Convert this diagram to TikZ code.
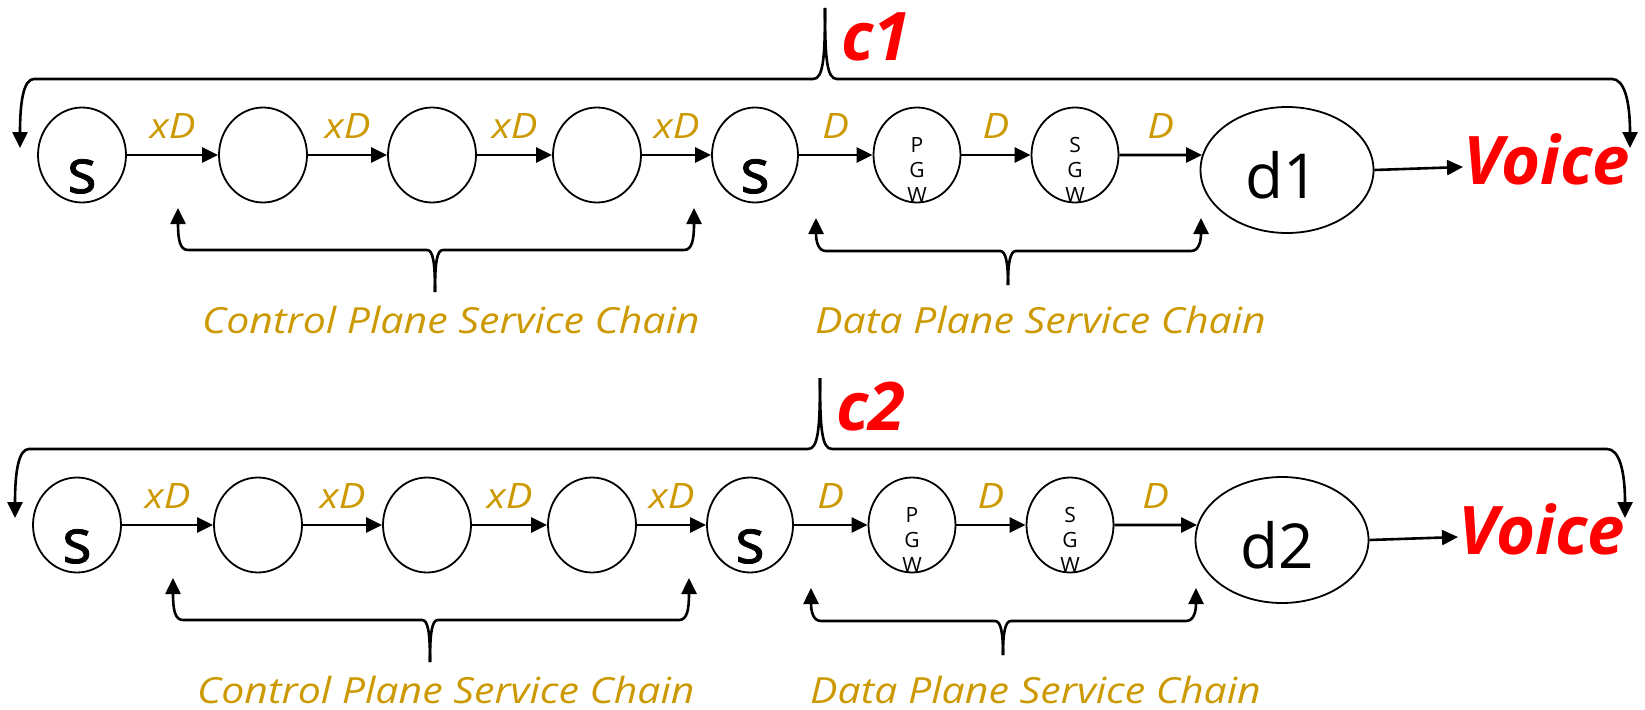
\documentclass[tikz,border=0pt]{standalone}
\usepackage{fontspec}
\setmainfont{Open Sans}
\newfontfamily\labfont[FakeStretch=1.14]{Open Sans}
\newfontfamily\sfont[FakeBold=1.2]{Open Sans}
\usetikzlibrary{arrows.meta,shapes.geometric}
\definecolor{gold}{RGB}{204,153,0}
\definecolor{vred}{RGB}{255,0,0}
\tikzset{
  nd/.style={draw, ellipse, line width=1.8pt, inner sep=0pt, minimum width=88pt, minimum height=95pt},
  bign/.style={nd, minimum width=173pt, minimum height=126pt},
  link/.style={line width=2.6pt, -{Triangle[length=16pt,width=15pt]}},
  brace/.style={line width=2.6pt, -{Triangle[length=16pt,width=15pt]}},
  lab/.style={font=\labfont\fontsize{35}{40}\selectfont\itshape, text=gold, anchor=base, inner sep=0pt, yshift=17pt},
  chainlab/.style={font=\labfont\fontsize{36}{42}\selectfont\itshape, text=gold, anchor=base west, inner sep=0pt},
  redlab/.style={font=\fontsize{67}{70}\selectfont\bfseries\itshape, text=vred, anchor=base west, inner sep=0pt},
  stxt/.style={font=\sfont\fontsize{62}{62}\selectfont, inner sep=0pt, anchor=base},
  dtxt/.style={font=\fontsize{62}{62}\selectfont, inner sep=0pt, anchor=base},
  gtxt/.style={font=\fontsize{21}{25}\selectfont, align=center, inner sep=0pt},
}
\newcommand{\chainrow}[3]{%
  \node[nd] (sa#1) at (82,155) {};
  \node[stxt] (sat#1) at (82,193) {s};
  \node[nd] (ca#1) at (263,155) {};
  \node[nd] (cb#1) at (432,155) {};
  \node[nd] (cc#1) at (597,155) {};
  \node[nd, minimum width=86pt] (sb#1) at (755,155) {};
  \node[stxt] (sbt#1) at (755,193) {s};
  \node[nd, minimum width=87pt] (pg#1) at (917,155) {};
  \node[gtxt] (pgt#1) at (917,170) {P\\G\\W};
  \node[nd, minimum width=87pt] (sg#1) at (1075,155) {};
  \node[gtxt] (sgt#1) at (1075,170) {S\\G\\W};
  \node[bign] (d#1) at (1287,170) {};
  \node[dtxt] (dt#1) at (1282,198) {#3};
  \node[redlab] (v#1) at (1463,184) {Voice};
  \node[redlab] (c#1) at (841,60) {#2};
  \coordinate (vin#1) at (1463,167);
  \draw[link] (sa#1) -- node[lab] (la#1) {xD} (ca#1);
  \draw[link] (ca#1) -- node[lab] (lb#1) {xD} (cb#1);
  \draw[link] (cb#1) -- node[lab] (lc#1) {xD} (cc#1);
  \draw[link] (cc#1) -- node[lab] (ld#1) {xD} (sb#1);
  \draw[link] (sb#1) -- node[lab] (le#1) {D} (pg#1);
  \draw[link] (pg#1) -- node[lab] (lf#1) {D} (sg#1);
  \draw[link] (sg#1) -- node[lab] (lg#1) {D} (d#1.170);
  \draw[link] (d#1.east) -- (vin#1);
  % top brace
  \coordinate (tt#1) at (825,8);
  \coordinate (tl#1) at (20,148);
  \coordinate (tr#1) at (1630,148);
  \draw[brace] (tt#1) .. controls (825,60) and (823,79) .. (813,79) -- (34,79) .. controls (24,79) and (20,100) .. (tl#1);
  \draw[brace] (tt#1) .. controls (825,60) and (827,79) .. (837,79) -- (1612,79) .. controls (1624,79) and (1630,100) .. (tr#1);
  % control plane bracket
  \coordinate (ct#1) at (435,292);
  \coordinate (cl#1) at (178,208);
  \coordinate (cr#1) at (694,208);
  \draw[brace] (ct#1) .. controls (435,262) and (433,250) .. (427,250) -- (188,250) .. controls (180,250) and (178,240) .. (cl#1);
  \draw[brace] (ct#1) .. controls (435,262) and (437,250) .. (443,250) -- (684,250) .. controls (692,250) and (694,240) .. (cr#1);
  \node[chainlab] (cpt#1) at (202,333) {Control Plane Service Chain};
  % data plane bracket
  \coordinate (dpt#1) at (1008,285);
  \coordinate (dl#1) at (816,218);
  \coordinate (dr#1) at (1201,218);
  \draw[brace] (dpt#1) .. controls (1008,263) and (1006,251) .. (1000,251) -- (826,251) .. controls (818,251) and (816,241) .. (dl#1);
  \draw[brace] (dpt#1) .. controls (1008,263) and (1010,251) .. (1016,251) -- (1191,251) .. controls (1199,251) and (1201,241) .. (dr#1);
  \node[chainlab] (dptx#1) at (815,333) {Data Plane Service Chain};
}
\begin{document}
\begin{tikzpicture}[x=1pt,y=-1pt]
\useasboundingbox (0,0) rectangle (1645,709);
\chainrow{A}{c1}{d1}
\begin{scope}[shift={(-5,370)}]
\chainrow{B}{c2}{d2}
\end{scope}
\end{tikzpicture}
\end{document}
